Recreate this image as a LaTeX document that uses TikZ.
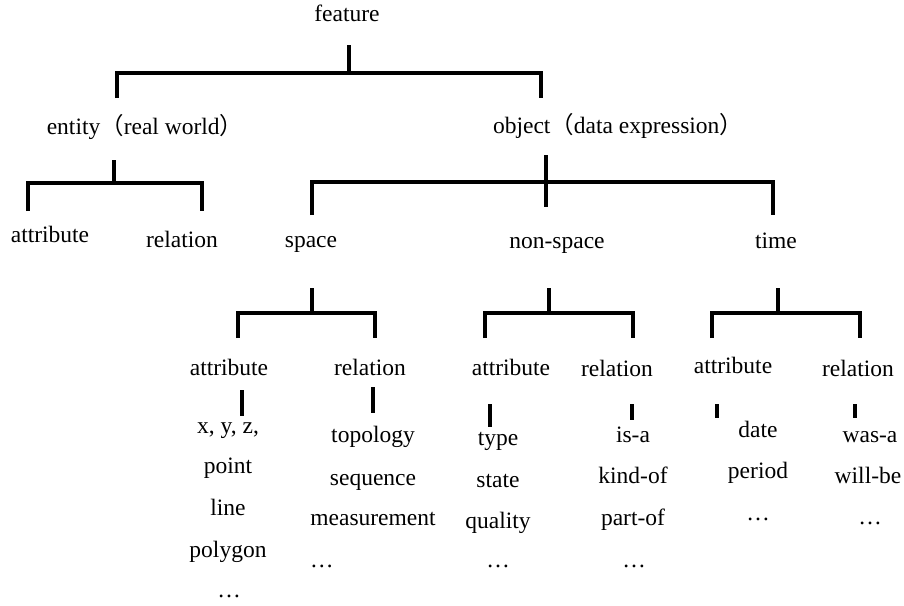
\documentclass[tikz,border=0pt]{standalone}
\usepackage{fontspec}
\setmainfont{Liberation Serif}
\newfontfamily\cjk{Noto Sans CJK SC}
\begin{document}
\begin{tikzpicture}[x=1pt,y=-1pt,
  lbl/.style={inner sep=0pt,text height=16pt,text depth=5pt,anchor=center,
    font=\fontsize{23.5}{28}\selectfont},
  br/.style={line width=4pt,line cap=butt,line join=miter},
  stb/.style={line width=4.2pt,line cap=butt}]
\useasboundingbox (0,0) rectangle (904,605);
% labels
\node[lbl] (feature) at (347,16) {feature};
\node[lbl] (entity) at (145,129) {entity{\cjk （}real world{\cjk ）}};
\node[lbl] (object) at (618,128) {object{\cjk （}data expression{\cjk ）}};
\node[lbl] (eattr) at (50,237) {attribute};
\node[lbl] (erel) at (182,242) {relation};
\node[lbl] (space) at (311,242) {space};
\node[lbl] (nonspace) at (557,243) {non-space};
\node[lbl] (time) at (776,243) {time};
\node[lbl] (sattr) at (229,370) {attribute};
\node[lbl] (srel) at (370,370) {relation};
\node[lbl] (nattr) at (511,370) {attribute};
\node[lbl] (nrel) at (617,371) {relation};
\node[lbl] (tattr) at (733,368) {attribute};
\node[lbl] (trel) at (858,371) {relation};
% lists
\node[lbl] (sa1) at (228,428) {x, y, z,};
\node[lbl] (sa2) at (228,468) {point};
\node[lbl] (sa3) at (228,510) {line};
\node[lbl] (sa4) at (228,552) {polygon};
\node[lbl] (sa5) at (229,592) {…};
\node[lbl] (sr1) at (373,437) {topology};
\node[lbl] (sr2) at (373,480) {sequence};
\node[lbl] (sr3) at (373,520) {measurement};
\node[lbl,anchor=west] (sr4) at (310,562) {…};
\node[lbl] (na1) at (498,440) {type};
\node[lbl] (na2) at (498,482) {state};
\node[lbl] (na3) at (498,523) {quality};
\node[lbl] (na4) at (498,562) {…};
\node[lbl] (nr1) at (633,437) {is-a};
\node[lbl] (nr2) at (633,478) {kind-of};
\node[lbl] (nr3) at (633,520) {part-of};
\node[lbl] (nr4) at (634,562) {…};
\node[lbl] (ta1) at (758,432) {date};
\node[lbl] (ta2) at (758,473) {period};
\node[lbl] (ta3) at (758,515) {…};
\node[lbl] (tr1) at (870,437) {was-a};
\node[lbl] (tr2) at (868,478) {will-be};
\node[lbl] (tr3) at (870,519) {…};
% brackets
\newcommand\brk[6]{\draw[br] (#1,#2) -- (#1,#3) (#4,#6) |- (#5,#3) -- (#5,#6);}
\brk{349}{45}{73}{117}{541}{98}
\brk{114}{160}{183}{28}{202}{211}
\brk{546}{155}{182}{312}{773}{215}
\draw[br] (546,182) -- (546,207);
\brk{312}{288}{313}{238}{375}{338}
\brk{549}{288}{313}{485}{633}{338}
\brk{778}{288}{313}{712}{860}{338}
% small stubs
\draw[stb] (242,390) -- (242,416);
\draw[stb] (373,387) -- (373,413);
\draw[stb] (490,404) -- (490,427);
\draw[stb] (632,404) -- (632,420);
\draw[stb] (717,404) -- (717,418);
\draw[stb] (855,404) -- (855,418);
\end{tikzpicture}
\end{document}
